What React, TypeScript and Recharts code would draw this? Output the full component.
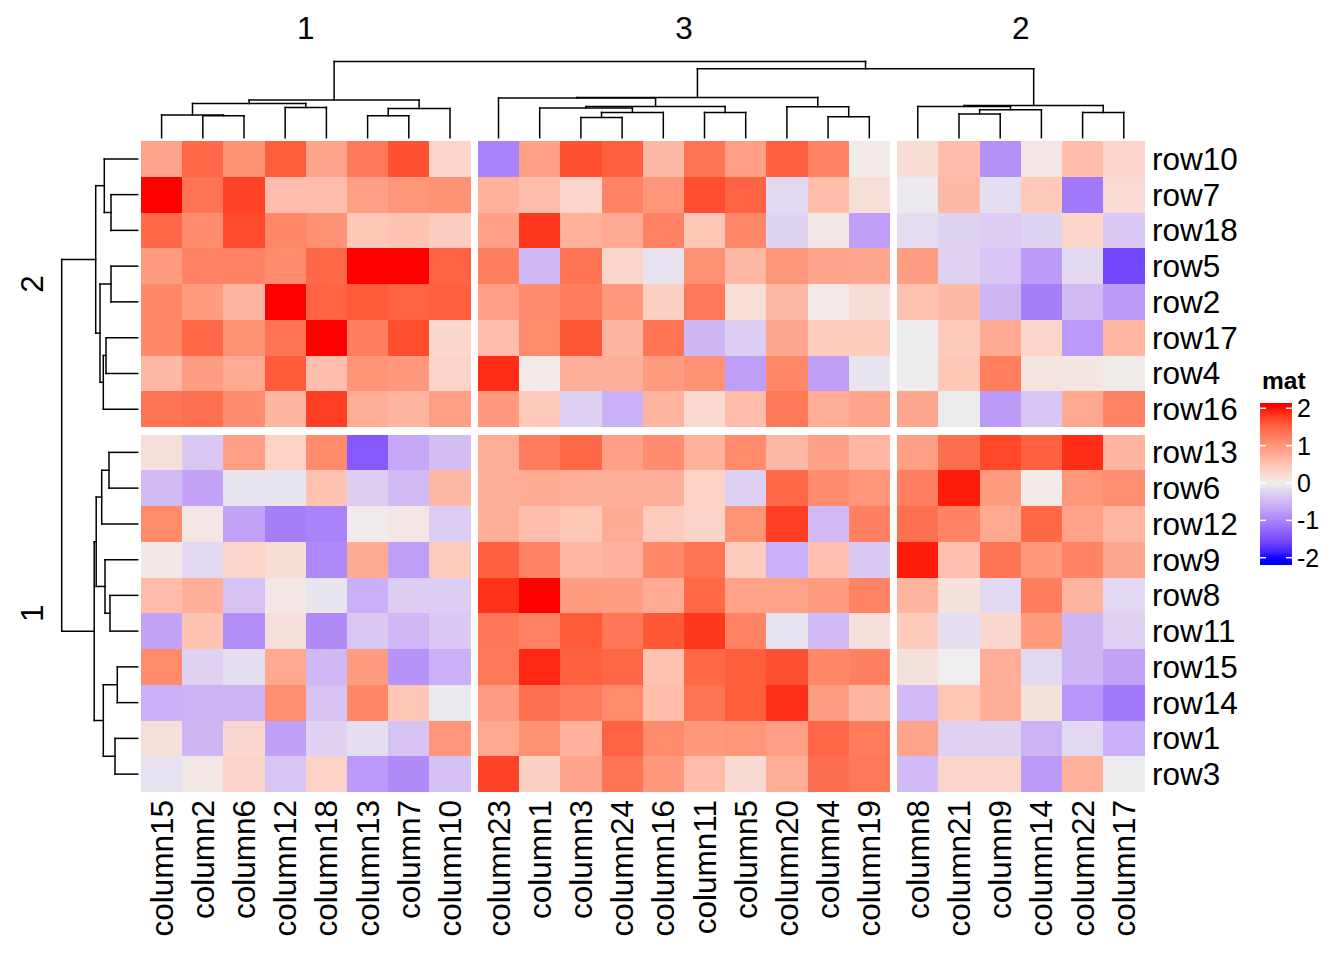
import React from "react";
import { ScatterChart, Scatter, XAxis, YAxis, ReferenceLine } from "recharts";

// display order after clustering
const colNames = [
  "column15", "column2", "column6", "column12", "column18", "column13", "column7", "column10",
  "column23", "column1", "column3", "column24", "column16", "column11", "column5", "column20", "column4", "column19",
  "column8", "column21", "column9", "column14", "column22", "column17",
];
const colGroupSizes = [8, 10, 6];
const colGroupLabels = ["1", "3", "2"];

const rowNames = [
  "row10", "row7", "row18", "row5", "row2", "row17", "row4", "row16",
  "row13", "row6", "row12", "row9", "row8", "row11", "row15", "row14", "row1", "row3",
];
const rowGroupSizes = [8, 10];
const rowGroupLabels = ["2", "1"];

// values per row, in the column order above
const row10 = [0.85, 1.45, 1.05, 1.55, 0.85, 1.3, 1.65, 0.3, -1.0, 0.88, 1.65, 1.52, 0.62, 1.35, 0.9, 1.52, 1.2, 0.05, 0.2, 0.57, -0.88, 0.08, 0.57, 0.3];
const row7 = [2.3, 1.35, 1.75, 0.55, 0.55, 0.9, 1.0, 1.05, 0.7, 0.55, 0.3, 1.2, 1.0, 1.67, 1.5, -0.2, 0.57, 0.18, -0.05, 0.62, -0.15, 0.42, -1.1, 0.22];
const row18 = [1.45, 1.1, 1.7, 1.15, 1.05, 0.45, 0.5, 0.38, 0.88, 1.82, 0.7, 0.78, 1.2, 0.45, 1.15, -0.25, 0.07, -0.75, -0.17, -0.25, -0.3, -0.25, 0.3, -0.35];
const row5 = [0.95, 1.2, 1.2, 1.1, 1.45, 2.3, 2.4, 1.5, 1.25, -0.5, 1.35, 0.3, -0.12, 1.05, 0.62, 1.0, 0.85, 0.82, 0.92, -0.27, -0.38, -0.78, -0.2, -1.55];
const row2 = [1.15, 0.95, 0.65, 2.2, 1.5, 1.58, 1.5, 1.52, 0.9, 1.1, 1.27, 0.98, 0.35, 1.3, 0.18, 0.62, 0.05, 0.2, 0.52, 0.62, -0.52, -1.05, -0.47, -0.78];
const row17 = [1.15, 1.45, 1.05, 1.35, 2.2, 1.25, 1.68, 0.28, 0.55, 1.12, 1.6, 0.65, 1.35, -0.52, -0.3, 0.82, 0.4, 0.4, -0.02, 0.42, 0.78, 0.3, -0.8, 0.63];
const row4 = [0.62, 0.92, 0.78, 1.58, 0.55, 1.02, 0.98, 0.32, 1.88, 0.05, 0.72, 0.72, 0.95, 1.05, -0.75, 1.15, -0.75, -0.08, -0.02, 0.45, 1.25, 0.12, 0.1, 0.04];
const row16 = [1.35, 1.38, 1.1, 0.65, 1.78, 0.75, 0.67, 0.9, 0.98, 0.42, -0.28, -0.58, 0.67, 0.25, 0.58, 1.3, 0.75, 0.85, 0.82, -0.03, -0.78, -0.38, 0.8, 1.2];
const row13 = [0.17, -0.35, 0.9, 0.33, 1.12, -1.4, -0.65, -0.45, 0.75, 1.27, 1.45, 0.9, 1.1, 0.7, 1.12, 0.62, 0.88, 0.63, 0.9, 1.4, 1.72, 1.52, 1.88, 0.67];
const row6 = [-0.47, -0.7, -0.08, -0.08, 0.52, -0.3, -0.47, 0.62, 0.72, 0.78, 0.72, 0.72, 0.72, 0.33, -0.28, 1.45, 1.1, 1.0, 1.22, 1.95, 0.95, 0.05, 1.0, 1.08];
const row12 = [1.12, 0.08, -0.7, -1.05, -1.0, 0.03, 0.08, -0.3, 0.75, 0.55, 0.45, 0.78, 0.4, 0.32, 1.03, 1.78, -0.48, 1.22, 1.38, 1.2, 0.8, 1.45, 0.87, 0.63];
const row9 = [0.06, -0.2, 0.3, 0.2, -0.95, 0.78, -0.75, 0.4, 1.52, 1.2, 0.63, 0.68, 1.15, 1.35, 0.4, -0.58, 0.53, -0.33, 1.95, 0.53, 1.35, 0.97, 1.2, 0.82];
const row8 = [0.58, 0.72, -0.4, 0.08, -0.08, -0.58, -0.3, -0.3, 1.85, 2.3, 0.95, 0.93, 0.78, 1.45, 0.87, 0.87, 0.95, 1.2, 0.67, 0.14, -0.2, 1.27, 0.67, -0.2];
const row11 = [-0.7, 0.5, -0.9, 0.17, -0.92, -0.35, -0.5, -0.33, 1.32, 1.2, 1.58, 1.32, 1.6, 1.82, 1.2, -0.1, -0.48, 0.17, 0.42, -0.15, 0.27, 0.95, -0.52, -0.27];
const row15 = [1.12, -0.27, -0.15, 0.8, -0.5, 0.95, -0.85, -0.58, 1.3, 1.9, 1.52, 1.48, 0.52, 1.45, 1.55, 1.65, 1.15, 1.22, 0.15, 0.0, 0.75, -0.2, -0.52, -0.7];
const row14 = [-0.58, -0.55, -0.55, 1.08, -0.4, 1.15, 0.47, -0.05, 0.92, 1.38, 1.28, 1.12, 0.57, 1.35, 1.55, 1.87, 0.92, 0.65, -0.48, 0.47, 0.75, 0.15, -0.83, -1.1];
const row1 = [0.17, -0.52, 0.27, -0.72, -0.27, -0.15, -0.4, 1.0, 0.8, 1.05, 0.68, 1.5, 1.12, 0.97, 1.0, 0.9, 1.47, 1.28, 0.85, -0.27, -0.27, -0.55, -0.2, -0.58];
const row3 = [-0.1, 0.08, 0.32, -0.38, 0.33, -0.8, -0.92, -0.42, 1.75, 0.35, 0.85, 1.35, 0.98, 0.58, 0.23, 0.75, 1.4, 1.3, -0.48, 0.3, 0.3, -0.78, 0.7, -0.03];

const matRows = [row10, row7, row18, row5, row2, row17, row4, row16, row13, row6, row12, row9, row8, row11, row15, row14, row1, row3];

// dendrograms: leaf = display index, node = [left, right, height]
type Node = number | [Node, Node, number];
const colTree: Node = [
  [[[0, [1, 2, 2.2], 2.27], [3, 4, 3.03], 3.43], [[5, 6, 2.2], 7, 2.93], 3.77],
  [
    [[8, [[9, [[10, 11, 2.03], 12, 2.53], 2.97], [13, 14, 2.53], 3.13], 3.97], [15, [16, 17, 2.1], 3.1], 4.03],
    [[18, [[19, 20, 2.37], 21, 2.8], 3.13], [22, 23, 2.53], 3.23],
    6.9,
  ],
  7.63,
];
const rowTree: Node = [
  [[0, [1, 2, 2.67], 3.34], [[3, 4, 2.67], [[5, 6, 3.17], 7, 3.44], 3.77], 4.2],
  [
    [[[8, 9, 2.87], 10, 3.6], [11, [12, 13, 2.77], 3.27], 4.15],
    [[14, 15, 2.04], [16, 17, 2.27], 3.44],
    4.35,
  ],
  7.6,
];

// layout (px)
const W = 1344;
const H = 960;
const HEAT_LEFT = 141;
const HEAT_TOP = 141;
const CELL_W = 41.2;
const CELL_H = 35.75;
const GAP_X = 7.3;
const GAP_Y = 7.5;
const DEND_GAP = 3.3;
const DEND_SCALE = 10;
const LABEL_SIZE = 31.5;
const FONT = "'Liberation Sans', Arial, Helvetica, sans-serif";

function groupOf(i: number, sizes: number[]) {
  let acc = 0;
  for (let g = 0; g < sizes.length; g++) {
    acc += sizes[g];
    if (i < acc) return g;
  }
  return sizes.length - 1;
}
const colX = (i: number) => HEAT_LEFT + i * CELL_W + groupOf(i, colGroupSizes) * GAP_X + CELL_W / 2;
const rowY = (j: number) => HEAT_TOP + j * CELL_H + groupOf(j, rowGroupSizes) * GAP_Y + CELL_H / 2;

// colorRamp2(c(-2, 0, 2), c("blue", "#EEEEEE", "red")) in LAB
type RGB = [number, number, number];
const toLin = (c: number) => {
  c /= 255;
  return c <= 0.04045 ? c / 12.92 : Math.pow((c + 0.055) / 1.055, 2.4);
};
const fromLin = (c: number) => {
  const v = c <= 0.0031308 ? 12.92 * c : 1.055 * Math.pow(c, 1 / 2.4) - 0.055;
  return Math.round(Math.max(0, Math.min(1, v)) * 255);
};
function rgb2lab([r, g, b]: RGB): RGB {
  const R = toLin(r), G = toLin(g), B = toLin(b);
  const X = (0.4124 * R + 0.3576 * G + 0.1805 * B) / 0.95047;
  const Y = 0.2126 * R + 0.7152 * G + 0.0722 * B;
  const Z = (0.0193 * R + 0.1192 * G + 0.9505 * B) / 1.08883;
  const f = (t: number) => (t > 0.008856 ? Math.cbrt(t) : 7.787 * t + 16 / 116);
  const fx = f(X), fy = f(Y), fz = f(Z);
  return [116 * fy - 16, 500 * (fx - fy), 200 * (fy - fz)];
}
function lab2rgb([L, a, b]: RGB): string {
  const fy = (L + 16) / 116;
  const fx = fy + a / 500;
  const fz = fy - b / 200;
  const inv = (t: number) => (t > 0.206893 ? t * t * t : (t - 16 / 116) / 7.787);
  const X = inv(fx) * 0.95047, Y = inv(fy), Z = inv(fz) * 1.08883;
  const R = 3.2406 * X - 1.5372 * Y - 0.4986 * Z;
  const G = -0.9689 * X + 1.8758 * Y + 0.0415 * Z;
  const B = 0.0557 * X - 0.204 * Y + 1.057 * Z;
  return `rgb(${fromLin(R)},${fromLin(G)},${fromLin(B)})`;
}
const LAB_BLUE = rgb2lab([0, 0, 255]);
const LAB_MID = rgb2lab([238, 238, 238]);
const LAB_RED = rgb2lab([255, 0, 0]);
function colorOf(v: number) {
  const t = Math.max(-2, Math.min(2, v)) / 2;
  const [a, b, k] = t < 0 ? [LAB_MID, LAB_BLUE, -t] : [LAB_MID, LAB_RED, t];
  return lab2rgb([0, 1, 2].map((i) => a[i] + (b[i] - a[i]) * k) as RGB);
}

type Seg = { x1: number; y1: number; x2: number; y2: number };
function walk(node: Node, segs: Seg[], map: (p: number, h: number) => [number, number], pos: (i: number) => number): { p: number; h: number } {
  if (typeof node === "number") return { p: pos(node), h: 0 };
  const L = walk(node[0], segs, map, pos);
  const R = walk(node[1], segs, map, pos);
  const h = node[2];
  const add = (a: [number, number], b: [number, number]) => segs.push({ x1: a[0], y1: a[1], x2: b[0], y2: b[1] });
  add(map(L.p, L.h), map(L.p, h));
  add(map(L.p, h), map(R.p, h));
  add(map(R.p, R.h), map(R.p, h));
  return { p: (L.p + R.p) / 2, h };
}

const cells = matRows.flatMap((vals, j) => vals.map((v, i) => ({ x: colX(i), y: rowY(j), v })));

const dendSegs: Seg[] = [];
walk(colTree, dendSegs, (p, h) => [p, HEAT_TOP - DEND_GAP - h * DEND_SCALE], colX);
walk(rowTree, dendSegs, (p, h) => [HEAT_LEFT - DEND_GAP - h * DEND_SCALE, p], rowY);

const groupCenter = (g: number, sizes: number[], pos: (i: number) => number) => {
  const start = sizes.slice(0, g).reduce((s, n) => s + n, 0);
  return (pos(start) + pos(start + sizes[g] - 1)) / 2;
};

const colLabelData = colNames.map((name, i) => ({ x: colX(i), y: 800, name }));
const rowLabelData = rowNames.map((name, j) => ({ x: 1152, y: rowY(j), name }));
const colTitleData = colGroupLabels.map((name, g) => ({ x: groupCenter(g, colGroupSizes, colX), y: 28, name }));
const rowTitleData = rowGroupLabels.map((name, g) => ({ x: 32, y: groupCenter(g, rowGroupSizes, rowY), name }));

const CellShape = (props: any) => {
  const { cx, cy, payload } = props;
  return (
    <rect
      x={cx - CELL_W / 2}
      y={cy - CELL_H / 2}
      width={CELL_W + 0.4}
      height={CELL_H + 0.4}
      fill={colorOf(payload.v)}
      shapeRendering="crispEdges"
    />
  );
};

const textShape = (anchor: "start" | "middle" | "end", rotate: boolean) => (props: any) => {
  const { cx, cy, payload } = props;
  return (
    <text
      x={cx}
      y={cy}
      textAnchor={anchor}
      dominantBaseline="central"
      transform={rotate ? `rotate(-90 ${cx} ${cy})` : undefined}
      fontFamily={FONT}
      fontSize={LABEL_SIZE}
      fill="#000"
    >
      {payload.name}
    </text>
  );
};

const legendTicks = [2, 1, 0, -1, -2];
const LEG_X = 1260;
const LEG_W = 32;
const LEG_TOP = 403;
const LEG_BOTTOM = 565;
const LEG_Y2 = 408.3;
const LEG_YM2 = 557.7;
const legY = (v: number) => LEG_Y2 + ((2 - v) / 4) * (LEG_YM2 - LEG_Y2);

function ColorLegend() {
  const stops = [];
  for (let k = 0; k <= 40; k++) {
    const y = LEG_TOP + (k / 40) * (LEG_BOTTOM - LEG_TOP);
    const v = 2 - ((y - LEG_Y2) / (LEG_YM2 - LEG_Y2)) * 4;
    stops.push(<stop key={k} offset={`${(k / 40) * 100}%`} stopColor={colorOf(v)} />);
  }
  return (
    <svg width={W} height={H} style={{ position: "absolute", left: 0, top: 0, pointerEvents: "none" }}>
      <defs>
        <linearGradient id="matGrad" x1="0" y1="0" x2="0" y2="1">
          {stops}
        </linearGradient>
      </defs>
      <text x={1262} y={389} fontFamily={FONT} fontWeight="bold" fontSize={24.5}>
        mat
      </text>
      <rect x={LEG_X} y={LEG_TOP} width={LEG_W} height={LEG_BOTTOM - LEG_TOP} fill="url(#matGrad)" />
      {legendTicks.map((t) => (
        <g key={t}>
          <line x1={LEG_X} x2={LEG_X + 6} y1={legY(t)} y2={legY(t)} stroke="#fff" strokeWidth={1.5} />
          <line x1={LEG_X + LEG_W - 6} x2={LEG_X + LEG_W} y1={legY(t)} y2={legY(t)} stroke="#fff" strokeWidth={1.5} />
          <text x={1297} y={legY(t)} dominantBaseline="central" fontFamily={FONT} fontSize={25}>
            {t}
          </text>
        </g>
      ))}
    </svg>
  );
}

export default function App() {
  return (
    <div style={{ position: "relative", width: W, height: H, background: "#fff" }}>
      <style>{"body{margin:0}"}</style>
      <ScatterChart width={W} height={H} margin={{ top: 0, right: 0, bottom: 0, left: 0 }}>
        <XAxis type="number" dataKey="x" domain={[0, W]} allowDataOverflow hide />
        <YAxis type="number" dataKey="y" domain={[0, H]} allowDataOverflow reversed hide />
        <Scatter data={cells} shape={CellShape} isAnimationActive={false} />
        {dendSegs.map((s, k) => (
          <ReferenceLine
            key={k}
            segment={[{ x: s.x1, y: s.y1 }, { x: s.x2, y: s.y2 }]}
            stroke="#000"
            strokeWidth={1.5}
            strokeLinecap="square"
          />
        ))}
        <Scatter data={colLabelData} shape={textShape("end", true)} isAnimationActive={false} />
        <Scatter data={rowLabelData} shape={textShape("start", false)} isAnimationActive={false} />
        <Scatter data={colTitleData} shape={textShape("middle", false)} isAnimationActive={false} />
        <Scatter data={rowTitleData} shape={textShape("middle", true)} isAnimationActive={false} />
      </ScatterChart>
      <ColorLegend />
    </div>
  );
}
